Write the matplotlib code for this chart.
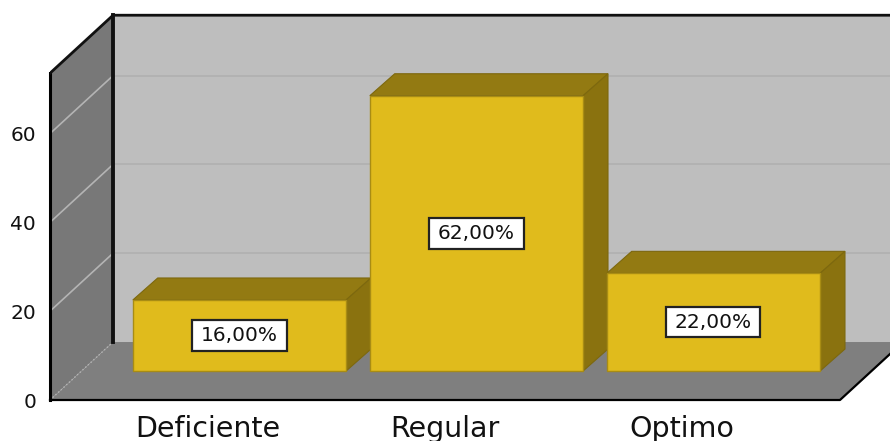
import matplotlib
matplotlib.use('Agg')
import matplotlib.pyplot as plt
from matplotlib.patches import Polygon, Rectangle

categories = ['Deficiente', 'Regular', 'Optimo']
values = [16.0, 62.0, 22.0]
bar_labels = ['16,00%', '62,00%', '22,00%']
yticks = [0, 20, 40, 60]

# 3d look, in data units (237 px per category, 4.44 px per percent)
WALL_DX, WALL_DY = 0.266, 13.06
BAR_DX, BAR_DY = 0.105, 4.95
BAR_W = 0.9
X0, X1 = -0.7996, 2.745
FLOOR_END = 2.534
WALL_TOP = 73.6
BASE = 6.53
BOX_W, BOX_H = 0.397, 6.9

fig = plt.figure(figsize=(8.9, 4.41), dpi=100)
ax = fig.add_axes([50 / 890, 41 / 441, 840 / 890, 400 / 441])
ax.set_xlim(X0, X1)
ax.set_ylim(0, 90.09)
for s in ax.spines.values():
    s.set_visible(False)

def poly(pts, color, z, edge='none', lw=0):
    ax.add_patch(Polygon(pts, closed=True, facecolor=color, edgecolor=edge, linewidth=lw, zorder=z))

bx = X0 + WALL_DX
# back wall, left wall, floor
poly([(bx, WALL_DY), (X1 + 1, WALL_DY), (X1 + 1, WALL_TOP + WALL_DY), (bx, WALL_TOP + WALL_DY)], '#bebebe', 1)
poly([(X0, 0), (bx, WALL_DY), (bx, WALL_TOP + WALL_DY), (X0, WALL_TOP)], '#787878', 1)
poly([(X0, 0), (FLOOR_END, 0), (FLOOR_END + WALL_DX, WALL_DY), (bx, WALL_DY)], '#7f7f7f', 1)

# gridlines
for t in yticks[1:]:
    ax.plot([X0, bx], [t, t + WALL_DY], color='#b4b4b4', lw=1.2, zorder=2)
    ax.plot([bx, X1], [t + WALL_DY, t + WALL_DY], color='#b0b0b0', lw=1.2, zorder=2)
ax.plot([X0, bx], [0, WALL_DY], color='#b4b4b4', lw=1, ls=':', zorder=2)

# frame
ax.plot([X0, X0], [0, WALL_TOP], color='#000000', lw=2.2, zorder=3, clip_on=False)
ax.plot([X0, bx, X1], [WALL_TOP, WALL_TOP + WALL_DY, WALL_TOP + WALL_DY], color='#111111', lw=2, zorder=3)
ax.plot([bx, bx], [WALL_DY, WALL_TOP + WALL_DY], color='#111111', lw=2.8, zorder=3)
ax.plot([X0, FLOOR_END, X1], [0, 0, WALL_DY * (X1 - FLOOR_END) / WALL_DX], color='#000000', lw=1.6, zorder=3, clip_on=False)

# bars
for i, v in enumerate(values):
    l, r = i - BAR_W / 2, i + BAR_W / 2
    b, t = BASE, BASE + v
    z = 4 + i
    poly([(l, t), (r, t), (r + BAR_DX, t + BAR_DY), (l + BAR_DX, t + BAR_DY)], '#937a12', z, '#7d680e', 0.8)
    poly([(r, b), (r + BAR_DX, b + BAR_DY), (r + BAR_DX, t + BAR_DY), (r, t)], '#8a720f', z, '#7d680e', 0.8)
    poly([(l, b), (r, b), (r, t), (l, t)], '#e0bb1c', z, '#a88c14', 1)
    ym = b + v / 2
    ax.add_patch(Rectangle((i - BOX_W / 2, ym - BOX_H / 2), BOX_W, BOX_H, facecolor='white',
                           edgecolor='#222222', linewidth=1.6, zorder=9))
    ax.text(i, ym, bar_labels[i], ha='center', va='center', fontsize=14.5, color='#111111', zorder=10)

ax.set_yticks(yticks)
ax.set_xticks([i - 0.133 for i in range(len(categories))])
ax.set_xticklabels(categories, fontsize=20.5, color='#111111')
ax.tick_params(axis='y', length=0, pad=10, labelsize=14.5, labelcolor='#111111')
ax.tick_params(axis='x', length=0, pad=10.5)

fig.savefig('out.png', dpi=100)
